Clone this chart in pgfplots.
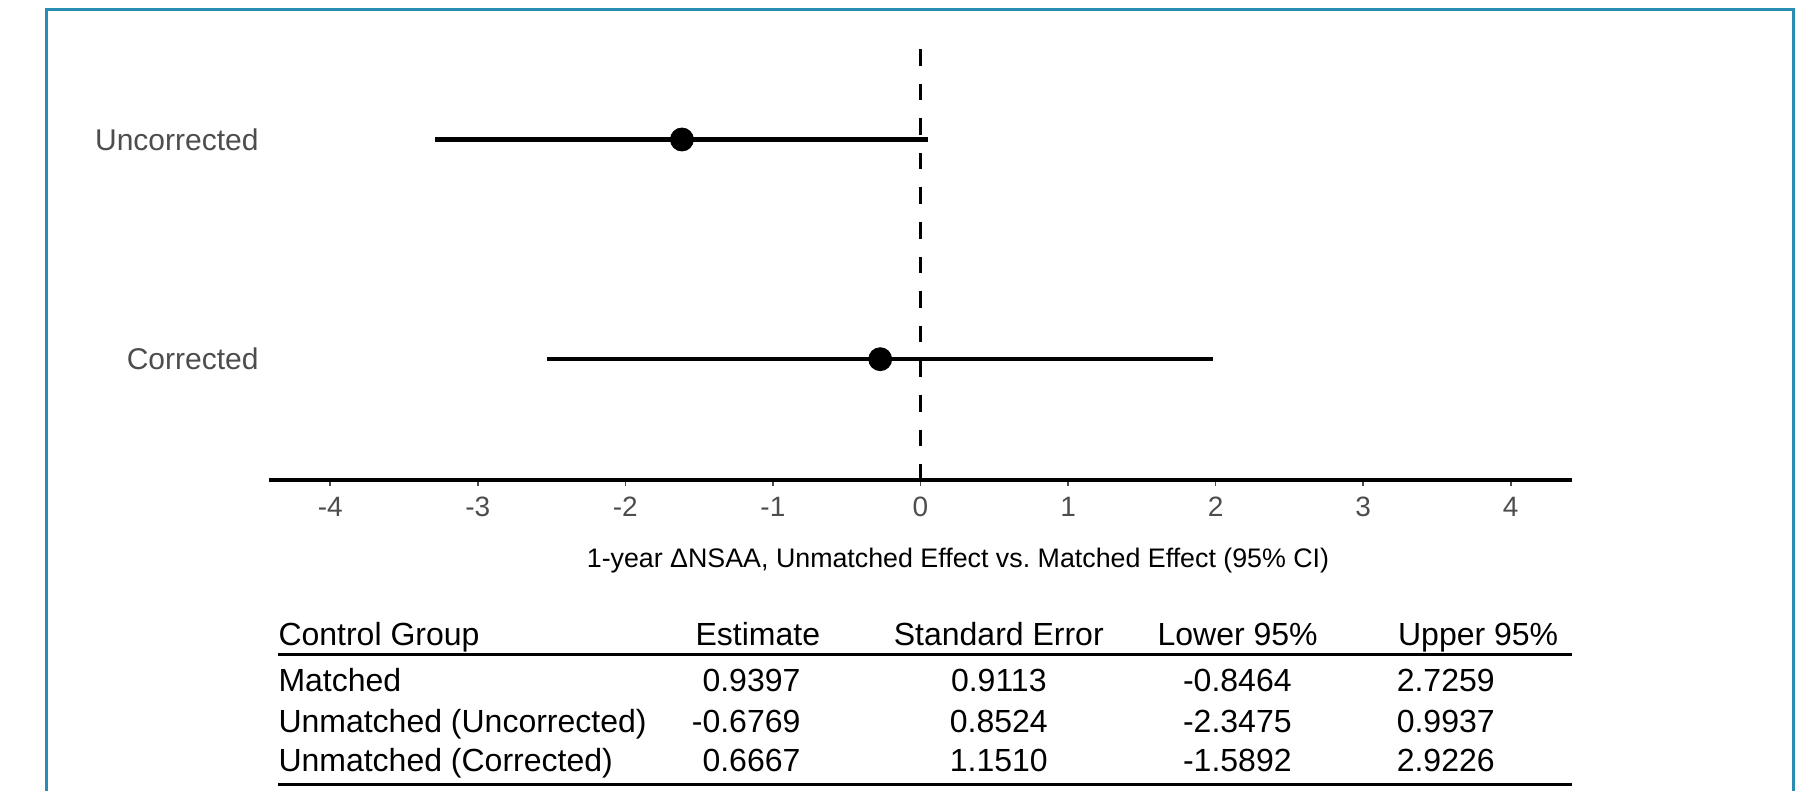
\documentclass[border=0pt]{standalone}
\usepackage{fontspec}
\setmainfont{Liberation Sans}
\usepackage{pgfplots}
\pgfplotsset{compat=1.18}
\definecolor{frameteal}{RGB}{41,140,178}
\definecolor{gray30}{RGB}{77,77,77}

\begin{document}
\begin{tikzpicture}[x=1pt,y=1pt]
\path[use as bounding box] (0,0) rectangle (908.5,395.5);
\draw[frameteal, line width=1.5pt] (23.2,0) -- (23.2,390.9) -- (896.6,390.9) -- (896.6,0);
\begin{axis}[
  at={(134.5pt,155.5pt)}, anchor=south west,
  scale only axis, width=651.5pt, height=215.5pt,
  xmin=-4.415, xmax=4.415, ymin=0.45, ymax=2.412,
  axis x line*=bottom, axis y line*=left,
  y axis line style={draw=none},
  x axis line style={line width=1.7pt, black},
  xtick={-4,-3,-2,-1,0,1,2,3,4},
  xticklabels={-4,-3,-2,-1,0,1,2,3,4},
  ytick={1,2}, yticklabels={Corrected,Uncorrected},
  ytick style={draw=none},
  xtick style={gray30, line width=0.8pt},
  tick align=outside, major tick length=3pt,
  xticklabel style={font=\fontsize{14}{16}\selectfont, text=gray30, anchor=base, yshift=-15.5pt},
  yticklabel style={font=\fontsize{15}{18}\selectfont, text=gray30, xshift=1.3pt},
  xlabel={1-year ΔNSAA, Unmatched Effect vs.\ Matched Effect (95\% CI)},
  xlabel style={font=\fontsize{13.4}{16}\selectfont, anchor=base, at={(axis description cs:0.5288,-0.2042)}},
  clip=false,
]
\addplot[black, dash pattern=on 8.3pt off 9pt, line width=1.6pt] coordinates {(0,2.412) (0,0.45)};
\addplot[only marks, mark=*, mark size=5.75pt, black,
  error bars/.cd, x dir=both, x explicit, error mark=none,
  error bar style={line width=2.1pt, black}]
  coordinates {(-1.6166,2) +- (1.6707,0) (-0.2730,1) +- (2.2560,0)};
\end{axis}
\begin{scope}[every node/.style={font=\fontsize{16}{19}\selectfont, inner sep=0pt}]
\node[anchor=base west] at (139.05,72.8) {Control Group};
\node[anchor=base] at (378.9,72.8) {Estimate};
\node[anchor=base] at (499.4,72.8) {Standard Error};
\node[anchor=base] at (618.8,72.8) {Lower 95\%};
\node[anchor=base east] at (779.3,72.8) {Upper 95\%};
\draw[line width=1.2pt] (139.05,68.2) -- (786.2,68.2);
\node[anchor=base west] at (139.05,49.6) {Matched};
\node[anchor=base east] at (400.4,49.6) {0.9397};
\node[anchor=base] at (499.4,49.6) {0.9113};
\node[anchor=base east] at (646.0,49.6) {-0.8464};
\node[anchor=base west] at (698.2,49.6) {2.7259};
\node[anchor=base west] at (139.05,29.3) {Unmatched (Uncorrected)};
\node[anchor=base east] at (400.4,29.3) {-0.6769};
\node[anchor=base] at (499.4,29.3) {0.8524};
\node[anchor=base east] at (646.0,29.3) {-2.3475};
\node[anchor=base west] at (698.2,29.3) {0.9937};
\node[anchor=base west] at (139.05,9.6) {Unmatched (Corrected)};
\node[anchor=base east] at (400.4,9.6) {0.6667};
\node[anchor=base] at (499.4,9.6) {1.1510};
\node[anchor=base east] at (646.0,9.6) {-1.5892};
\node[anchor=base west] at (698.2,9.6) {2.9226};
\draw[line width=1.2pt] (139.05,3.25) -- (786.2,3.25);
\end{scope}
\end{tikzpicture}
\end{document}
